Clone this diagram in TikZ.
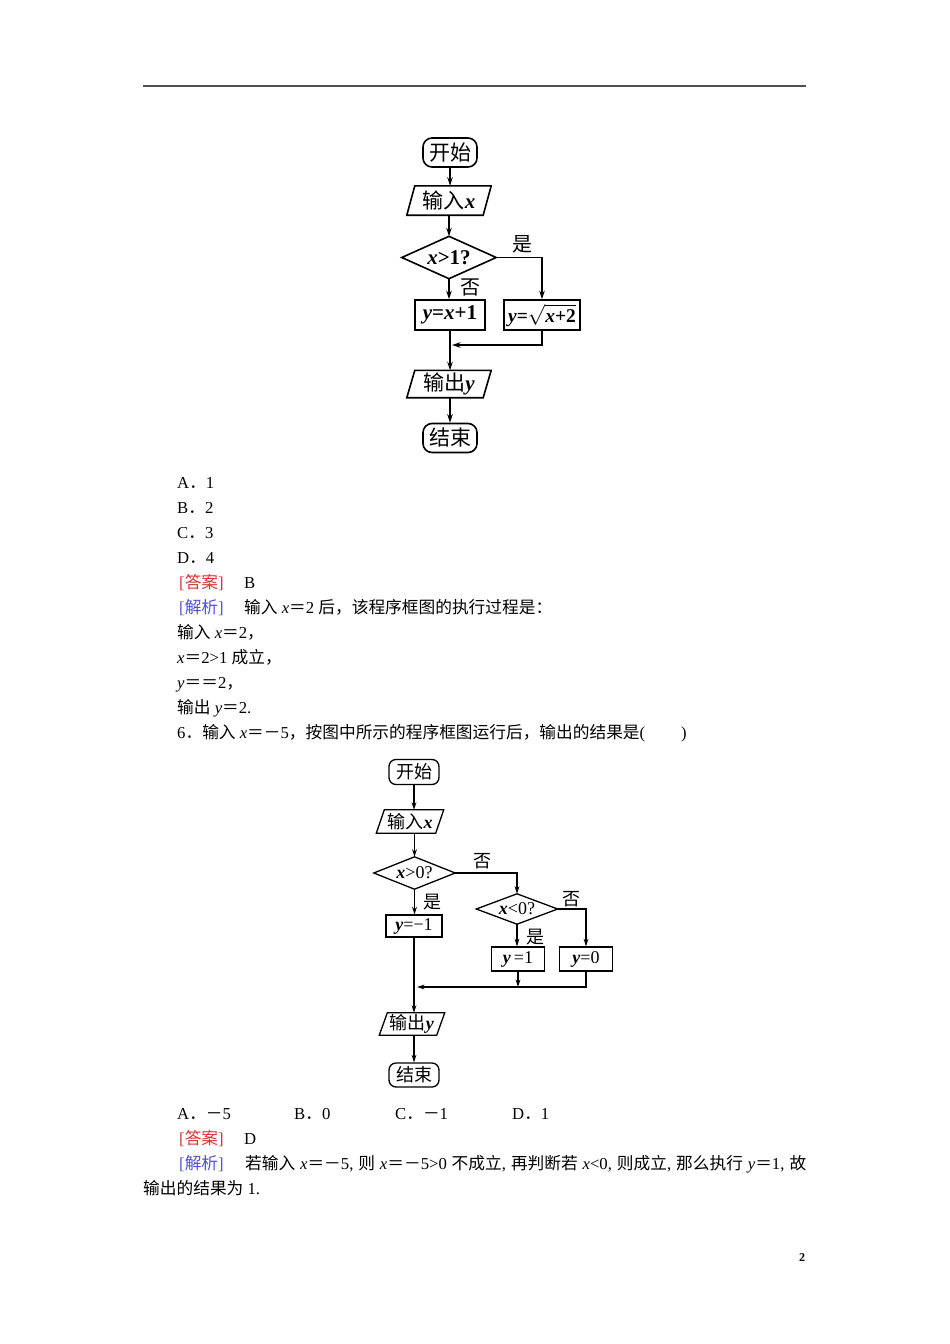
\documentclass[tikz,border=0pt]{standalone}
\usepackage{fontspec}
\setmainfont{Liberation Serif}
\newfontfamily\zh{Noto Sans CJK SC}
\usetikzlibrary{arrows.meta}
\definecolor{ansred}{RGB}{215,50,50}
\definecolor{anablue}{RGB}{80,80,215}
\definecolor{rulegray}{RGB}{80,80,80}
\newcommand\bx[1]{\textbf{\textit{#1}}}
\newcommand\ix[1]{\textit{#1}}
\newcommand\drawpara[3]{\draw[#3] ([xshift=#2]#1.north west) -- ([xshift=#2]#1.north east) -- ([xshift=-#2]#1.south east) -- ([xshift=-#2]#1.south west) -- cycle;}
\newcommand\drawdia[2]{\draw[#2] (#1.north) -- (#1.east) -- (#1.south) -- (#1.west) -- cycle;}
\begin{document}
\begin{tikzpicture}[x=1pt,y=-1pt,
  body/.style={anchor=base west,inner sep=0pt,font=\fontsize{16.7}{20}\selectfont},
  fa/.style={line width=1.6pt},
  fb/.style={line width=1.3pt},
  arra/.style={fa,-{Stealth[length=8.5pt,width=5.5pt]}},
  arrb/.style={fb,-{Stealth[length=7.5pt,width=4.8pt]}},
  nda/.style={inner sep=0pt,font=\fontsize{21}{25}\selectfont},
  ndb/.style={inner sep=0pt,font=\fontsize{18}{22}\selectfont},
  terma/.style={nda,draw,fa,rounded corners=9pt,minimum width=54pt,minimum height=29pt},
  termb/.style={ndb,draw,fb,rounded corners=7pt,minimum width=50pt,minimum height=25pt},
  boxa/.style={nda,draw,fa,minimum height=30pt},
  boxb/.style={ndb,draw,fb,minimum height=23pt},
  laba/.style={inner sep=0pt,font=\fontsize{20}{24}\selectfont\zh},
  labb/.style={inner sep=0pt,font=\fontsize{18}{22}\selectfont\zh},
  pgnum/.style={anchor=base,inner sep=0pt,font=\fontsize{12}{14}\selectfont\bfseries}
]
\useasboundingbox (0,0) rectangle (950,1344);
\fill[white] (0,0) rectangle (950,1344);
% top rule
\coordinate (r1) at (143,86);
\coordinate (r2) at (806,86);
\draw[rulegray,line width=1.5pt] (r1) -- (r2);

% ---------- flowchart 1 ----------
\node[terma] (s1) at (450,152.5) {{\zh 开始}};
\node[nda,minimum width=76pt,minimum height=29pt] (i1) at (449,200.5) {{\zh 输入}\bx{x}};
\drawpara{i1}{4pt}{fa}
\node[nda,minimum width=94pt,minimum height=42pt] (d1) at (449,257.5) {\bx{x}\textbf{>1?}};
\drawdia{d1}{fa}
\node[boxa,minimum width=70pt] (p1) at (450,315) {\bx{y}\textbf{=}\bx{x}\textbf{+1}};
\node[boxa,minimum width=76pt,font=\fontsize{19.5}{24}\selectfont] (p2) at (542,315) {\bx{y}\textbf{=}$\sqrt{\mbox{\bx{x}\textbf{+2}}}$};
\node[nda,minimum width=76pt,minimum height=27pt] (o1) at (449,384) {{\zh 输出}\bx{y}};
\drawpara{o1}{4pt}{fa}
\node[terma] (e1) at (450,438) {{\zh 结束}};
\coordinate (m1) at (452,345);
\node[laba] (ly1) at (522,244) {是};
\node[laba] (ln1) at (470,287) {否};

\draw[arra] (s1.south) -- (s1.south |- i1.north);
\draw[arra] (d1.north |- i1.south) -- (d1.north);
\draw[arra] (d1.south) -- (d1.south |- p1.north);
\draw[arra] (d1.east) -| (p2.north);
\draw[arra] (p2.south) |- (m1);
\draw[arra] (p1.south) -- (p1.south |- o1.north);
\draw[arra] (e1.north |- o1.south) -- (e1.north);

% ---------- text block 1 ----------
\node[body] (a1) at (177,488) {A{\zh ．}1};
\node[body] (a2) at (177,513) {B{\zh ．}2};
\node[body] (a3) at (177,538) {C{\zh ．}3};
\node[body] (a4) at (177,563) {D{\zh ．}4};
\node[body,text=ansred] (k1) at (177,588) {\kern2pt[{\zh 答案}]};
\node[body] (k1b) at (244,588) {B};
\node[body,text=anablue] (j1) at (177,613) {\kern2pt[{\zh 解析}]};
\node[body] (j1b) at (244,613) {{\zh 输入} \ix{x}{\zh ＝}2 {\zh 后，该程序框图的执行过程是：}};
\node[body] (t1) at (177,638) {{\zh 输入} \ix{x}{\zh ＝}2{\zh ，}};
\node[body] (t2) at (177,663) {\ix{x}{\zh ＝}2>1 {\zh 成立，}};
\node[body] (t3) at (177,688) {\ix{y}{\zh ＝＝}2{\zh ，}};
\node[body] (t4) at (177,713) {{\zh 输出} \ix{y}{\zh ＝}2.};
\node[body] (q6) at (177,738) {6{\zh ．输入} \ix{x}{\zh ＝－}5{\zh ，按图中所示的程序框图运行后，输出的结果是}(\hspace{36pt})};

% ---------- flowchart 2 ----------
\node[termb] (s2) at (414,772) {{\zh 开始}};
\node[ndb,minimum width=59pt,minimum height=23pt] (i2) at (410,821.5) {{\zh 输入}\bx{x}};
\drawpara{i2}{4pt}{fb}
\node[ndb,minimum width=81pt,minimum height=32pt] (d2) at (414.5,873) {\bx{x}>0?};
\drawdia{d2}{fb}
\node[boxb,minimum width=56pt,minimum height=22pt] (b2) at (414,926) {\bx{y}=\textminus1};
\node[ndb,minimum width=81pt,minimum height=30pt] (d3) at (517,909) {\bx{x}<0?};
\drawdia{d3}{fb}
\node[boxb,minimum width=53pt,minimum height=24pt] (q1) at (518,959) {\bx{y}\,=1};
\node[boxb,minimum width=53pt,minimum height=24pt] (q0) at (586,959) {\bx{y}=0};
\node[ndb,minimum width=57pt,minimum height=22pt] (o2) at (412,1024) {{\zh 输出}\bx{y}};
\drawpara{o2}{4pt}{fb}
\node[termb,minimum height=24pt] (e2) at (414,1075) {{\zh 结束}};
\coordinate (m2) at (518,987);
\coordinate (m3) at (417,987);
\node[labb] (ln2) at (482,861) {否};
\node[labb] (ly2) at (432,902) {是};
\node[labb] (ln3) at (571,899) {否};
\node[labb] (ly3) at (535,937) {是};

\draw[arrb] (s2.south) -- (s2.south |- i2.north);
\draw[arrb] (d2.north |- i2.south) -- (d2.north);
\draw[arrb] (d2.south) -- (d2.south |- b2.north);
\draw[arrb] (d2.east) -| (d3.north);
\draw[arrb] (d3.south) -- (d3.south |- q1.north);
\draw[arrb] (d3.east) -| (q0.north);
\draw[arrb] (q1.south) -- (m2);
\draw[arrb] (q0.south) |- (m3);
\draw[arrb] (b2.south) -- (b2.south |- o2.north);
\draw[arrb] (e2.north |- o2.south) -- (e2.north);

% ---------- text block 2 ----------
\node[body] (c1) at (177,1119) {A{\zh ．－}5};
\node[body] (c2) at (294,1119) {B{\zh ．}0};
\node[body] (c3) at (395,1119) {C{\zh ．－}1};
\node[body] (c4) at (512,1119) {D{\zh ．}1};
\node[body,text=ansred] (k2) at (177,1144) {\kern2pt[{\zh 答案}]};
\node[body] (k2b) at (244,1144) {D};
\node[body,text=anablue] (j2) at (177,1169) {\kern2pt[{\zh 解析}]};
\node[body] (j2b) at (245,1169) {\makebox[561pt][s]{{\zh 若输入} \ix{x}{\zh ＝－}5, {\zh 则} \ix{x}{\zh ＝－}5>0 {\zh 不成立}, {\zh 再判断若} \ix{x}<0, {\zh 则成立}, {\zh 那么执行} \ix{y}{\zh ＝}1, {\zh 故}}};
\node[body] (j2c) at (143,1194) {{\zh 输出的结果为} 1.};

\node[pgnum] (pg) at (802,1261) {2};
\end{tikzpicture}
\end{document}
